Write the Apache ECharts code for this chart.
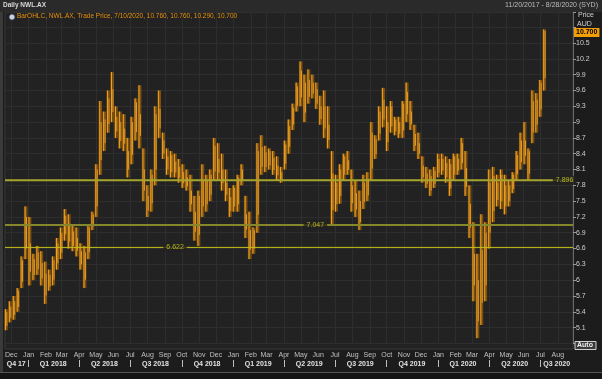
<!DOCTYPE html>
<html><head><meta charset="utf-8">
<script src="https://cdn.jsdelivr.net/npm/echarts@6/dist/echarts.min.js"></script>
<style>html,body{margin:0;padding:0;background:#1c1c1c;} #c{width:602px;height:379px;}</style>
</head><body><div id="c"></div>
<script>
// ---- data ----
const startDate = '2017-11-20';
const endDate = '2020-08-28';
const firstWeekEnd = '2017-11-24';
const lows = [5.05,5.2,5.25,5.4,5.85,6.4,5.9,6.0,6.1,5.9,5.55,5.8,5.9,6.2,6.4,6.75,6.6,6.55,6.45,6.2,
5.85,6.4,6.95,7.2,8.0,8.45,8.8,9.0,8.7,8.5,8.45,7.95,8.2,8.65,8.5,7.5,7.2,7.3,7.8,8.7,
8.3,8.0,7.95,7.95,7.85,7.75,7.7,7.3,6.75,6.65,7.2,7.3,7.5,7.9,7.9,7.7,7.5,7.2,7.3,7.3,
7.8,6.8,6.4,6.5,6.9,8.0,8.05,8.1,8.0,7.9,7.85,8.1,8.4,8.85,9.2,9.3,9.0,9.35,9.45,9.25,
8.95,8.7,8.5,7.05,7.3,7.45,7.9,8.0,7.3,7.2,6.95,7.35,7.5,7.9,8.3,8.65,8.9,8.45,8.8,8.75,
8.7,8.7,9.0,8.85,8.45,8.3,7.85,7.75,7.6,7.75,7.95,8.0,7.85,7.6,7.9,8.0,8.1,7.6,6.8,5.6,
4.9,5.15,5.6,6.6,7.1,7.4,7.35,7.25,7.4,7.65,7.9,8.1,8.2,7.9,8.6,8.8,9.1,9.6];
const highs = [5.45,5.6,5.7,5.85,6.45,7.4,7.2,6.5,6.65,6.55,6.35,6.2,6.45,6.8,7.0,7.35,7.25,7.05,7.0,6.7,
6.65,7.05,7.3,8.2,9.4,9.2,9.6,9.95,9.3,9.2,9.15,8.7,9.1,9.45,9.7,8.5,7.8,8.1,9.3,9.6,
8.8,8.5,8.45,8.4,8.3,8.2,8.1,8.0,7.6,7.7,8.2,8.0,8.1,8.7,8.6,8.4,8.1,7.75,7.8,8.0,
8.2,7.6,7.3,7.0,8.6,8.75,8.55,8.5,8.45,8.35,8.15,8.65,9.05,9.35,9.75,10.15,9.9,10.0,9.9,9.75,
9.5,9.6,9.3,8.45,8.0,8.2,8.4,8.45,8.1,7.9,7.7,8.0,8.05,9.0,8.75,9.3,9.65,9.3,9.4,9.1,
9.1,9.4,9.75,9.4,8.95,8.8,8.35,8.15,8.1,8.15,8.4,8.4,8.35,8.3,8.4,8.4,8.7,8.45,7.8,7.1,
6.5,7.25,7.1,8.1,8.15,8.0,8.1,8.0,7.9,8.05,8.45,8.8,9.0,8.5,9.6,9.55,9.8,10.76];
const closes = [5.35,5.4,5.5,5.75,6.3,7.0,6.2,6.3,6.4,6.1,5.9,6.0,6.3,6.6,6.8,7.1,6.9,6.8,6.6,6.4,
6.4,6.95,7.2,8.0,8.6,8.9,9.3,9.3,8.9,8.8,8.6,8.2,8.9,9.3,8.6,7.7,7.4,7.9,9.0,8.9,
8.5,8.2,8.3,8.1,8.0,7.9,7.8,7.4,7.0,7.5,7.6,7.8,7.9,8.4,8.0,7.8,7.6,7.4,7.7,7.9,
8.0,6.9,6.6,6.9,8.3,8.3,8.3,8.4,8.2,8.0,7.95,8.5,8.8,9.2,9.6,9.8,9.6,9.6,9.6,9.5,
9.1,9.0,8.6,7.6,7.7,8.0,8.3,8.1,7.5,7.4,7.3,7.7,7.8,8.6,8.6,9.1,9.2,8.7,9.2,9.0,
8.9,9.3,9.4,9.0,8.6,8.4,8.0,7.9,7.85,8.0,8.2,8.2,8.1,8.1,8.3,8.2,8.5,7.8,7.1,5.9,
5.5,5.9,6.7,7.6,7.8,7.7,7.9,7.6,7.7,7.95,8.3,8.5,8.3,8.4,9.2,9.3,9.7,10.70];
const levels = [7.896, 7.047, 6.622];
const levelLabelDates = ['2020-08-13', '2019-05-27', '2018-09-19'];
const monthNames = ['Jan','Feb','Mar','Apr','May','Jun','Jul','Aug','Sep','Oct','Nov','Dec'];
const quarterLabels = ['Q4 17','Q1 2018','Q2 2018','Q3 2018','Q4 2018','Q1 2019','Q2 2019','Q3 2019','Q4 2019','Q1 2020','Q2 2020','Q3 2020'];
const quarterLabelDates = ['2017-12-10','2018-02-14','2018-05-16','2018-08-15','2018-11-15','2019-02-14','2019-05-16','2019-08-15','2019-11-15','2020-02-14','2020-05-16','2020-07-30'];
const quarterStarts = ['2018-01-01','2018-04-01','2018-07-01','2018-10-01','2019-01-01','2019-04-01','2019-07-01','2019-10-01','2020-01-01','2020-04-01','2020-07-01'];
const lastBar = {date:'7/10/2020', open:'10.760', high:'10.760', low:'10.290', close:'10.700'};
const rangeText = '11/20/2017 - 8/28/2020 (SYD)';

// ---- categories (calendar days) ----
const DAY = 86400000;
const t0 = Date.parse(startDate + 'T00:00:00Z'), t1 = Date.parse(endDate + 'T00:00:00Z');
const days = [];
for (let t = t0; t <= t1; t += DAY) days.push(new Date(t).toISOString().slice(0, 10));
const w0 = Date.parse(firstWeekEnd + 'T00:00:00Z');
const weeks = lows.map((_, i) => new Date(w0 + i * 7 * DAY).toISOString().slice(0, 10));
const barData = weeks.map((d, i) => [d, lows[i], highs[i], closes[i]]);

const chart = echarts.init(document.getElementById('c'), null, {renderer: 'canvas'});
const FONT = 'Liberation Sans';

const levelStyles = [
  {color: '#a6a62e', width: 2},
  {color: '#86862a', width: 2},
  {color: '#c4c416', width: 1}
];
const levelSeries = levels.map((v, i) => ({
  type: 'line', xAxisIndex: 0, yAxisIndex: 0, z: 4, silent: true, animation: false,
  symbol: 'none',
  lineStyle: {color: levelStyles[i].color, width: levelStyles[i].width},
  data: [[startDate, v], [endDate, v]],
  markLine: i === 0 ? {
    silent: true, symbol: 'none', animation: false,
    lineStyle: {color: 'transparent', width: 0},
    label: {show: true, position: 'end', distance: 1, formatter: lastBar.close,
      backgroundColor: '#f29f05', color: '#000', fontWeight: 'bold', fontSize: 7,
      fontFamily: FONT, padding: [1, 2, 1, 2]},
    data: [{yAxis: closes[closes.length - 1]}]
  } : undefined
}));

const levelLabelSeries = {
  type: 'scatter', xAxisIndex: 0, yAxisIndex: 0, z: 5, silent: true, animation: false,
  symbol: 'rect', symbolSize: 1, itemStyle: {color: 'transparent'},
  data: levels.map((v, i) => [levelLabelDates[i], v]),
  label: {show: true, position: 'inside', formatter: p => p.value[1].toFixed(3),
    color: '#d6d21e', fontSize: 7, fontFamily: FONT, backgroundColor: '#222222', padding: [1, 3]},
  labelLayout: {hideOverlap: false}
};

chart.setOption({
  backgroundColor: '#1c1c1c',
  animation: false,
  textStyle: {fontFamily: FONT},
  grid: {left: 5, right: 29, top: 12.5, bottom: 35.6, containLabel: false},
  xAxis: [{
    type: 'category', data: days, boundaryGap: false,
    axisLine: {show: false}, axisTick: {show: false},
    axisLabel: {interval: (i, v) => v.slice(8) === '01', formatter: v => monthNames[+v.slice(5, 7) - 1],
      color: '#c0c0c0', fontSize: 7, margin: 8, fontFamily: FONT},
    splitLine: {show: true, interval: (i, v) => v.slice(8) === '01', lineStyle: {color: '#2e2e2e', width: 1}}
  }, {
    type: 'category', data: days, boundaryGap: false, position: 'bottom', offset: 16.6,
    axisLine: {show: false},
    axisTick: {show: true, interval: (i, v) => quarterStarts.includes(v), length: 7, lineStyle: {color: '#bdbdbd'}},
    axisLabel: {interval: (i, v) => quarterLabelDates.includes(v), formatter: v => quarterLabels[quarterLabelDates.indexOf(v)],
      color: '#e2e2e2', fontWeight: 'bold', fontSize: 7, margin: 1, fontFamily: FONT},
    splitLine: {show: false}
  }],
  yAxis: {
    type: 'value', position: 'right', min: 4.8, max: 11.08, interval: 0.3,
    axisLine: {show: true, lineStyle: {color: '#6a6a6a'}},
    axisTick: {show: true, length: 3, lineStyle: {color: '#9a9a9a'}},
    axisLabel: {color: '#cfcfcf', fontSize: 7, margin: 3, fontFamily: FONT,
      formatter: v => (v < 5 || v > 10.6) ? '' : String(Math.round(v * 10) / 10)},
    splitLine: {show: true, lineStyle: {color: '#2e2e2e', width: 1}}
  },
  graphic: [
    {type: 'rect', z: -10, shape: {x: 0, y: 0, width: 602, height: 12}, style: {fill: '#2a2a2a'}},
    {type: 'rect', z: -10, shape: {x: 5, y: 12.5, width: 568, height: 336.5}, style: {fill: '#222222', stroke: '#383838', lineWidth: 1}},
    {type: 'rect', z: -10, shape: {x: 0, y: 12, width: 3, height: 360}, style: {fill: '#3a3a3a'}},
    {type: 'rect', z: -10, shape: {x: 0, y: 372, width: 602, height: 7}, style: {fill: '#141414'}},
    {type: 'line', z: -9, shape: {x1: 0, y1: 372.5, x2: 602, y2: 372.5}, style: {stroke: '#555', lineWidth: 1}},
    {type: 'text', z: 10, left: 3, top: 2, style: {text: 'Daily NWL.AX', fill: '#d8d8d8', font: 'bold 6.5px ' + FONT}},
    {type: 'text', z: 10, right: 4, top: 2, style: {text: rangeText, fill: '#bdbdbd', font: '7px ' + FONT}},
    {type: 'circle', z: 10, shape: {cx: 12, cy: 17, r: 2.6}, style: {fill: '#c9d4e6', stroke: '#7d8aa0', lineWidth: 0.5}},
    {type: 'text', z: 10, left: 17, top: 13, style: {text: 'BarOHLC, NWL.AX, Trade Price, ' + lastBar.date + ', ' + lastBar.open + ', ' + lastBar.high + ', ' + lastBar.low + ', ' + lastBar.close, fill: '#e8920c', font: '6.5px ' + FONT}},
    {type: 'text', z: 10, left: 578, top: 12, style: {text: 'Price', fill: '#d0d0d0', font: '7px ' + FONT}},
    {type: 'text', z: 10, left: 577, top: 21, style: {text: 'AUD', fill: '#d0d0d0', font: '7px ' + FONT}},
    {type: 'rect', z: 10, shape: {x: 575, y: 341.5, width: 21, height: 8}, style: {fill: '#3a3a3a', stroke: '#cfcfcf', lineWidth: 1}},
    {type: 'text', z: 11, left: 577, top: 342, style: {text: 'Auto', fill: '#f0f0f0', font: 'bold 7px ' + FONT}}
  ],
  series: [{
    type: 'custom', xAxisIndex: 0, yAxisIndex: 0, z: 3, silent: true, animation: false,
    encode: {x: 0, y: [1, 2, 3]},
    data: barData,
    renderItem: (params, api) => {
      const xi = api.value(0);
      const pl = api.coord([xi, api.value(1)]);
      const ph = api.coord([xi, api.value(2)]);
      const pc = api.coord([xi, api.value(3)]);
      const x = pl[0];
      return {type: 'group', children: [
        {type: 'rect', shape: {x: x - 3.0, y: ph[1], width: 3.6, height: pl[1] - ph[1]},
          style: {fill: 'rgba(176,108,10,0.6)'}},
        {type: 'line', shape: {x1: x - 1.8, y1: pl[1], x2: x - 1.8, y2: ph[1]}, style: {stroke: '#f6a41e', lineWidth: 1}},
        {type: 'line', shape: {x1: x - 0.4, y1: (pc[1] + ph[1]) / 2, x2: x - 0.4, y2: pl[1] - (pl[1] - ph[1]) * 0.2}, style: {stroke: '#ffae2a', lineWidth: 0.8}}
      ]};
    }
  }].concat(levelSeries, [levelLabelSeries])
});
</script></body></html>
